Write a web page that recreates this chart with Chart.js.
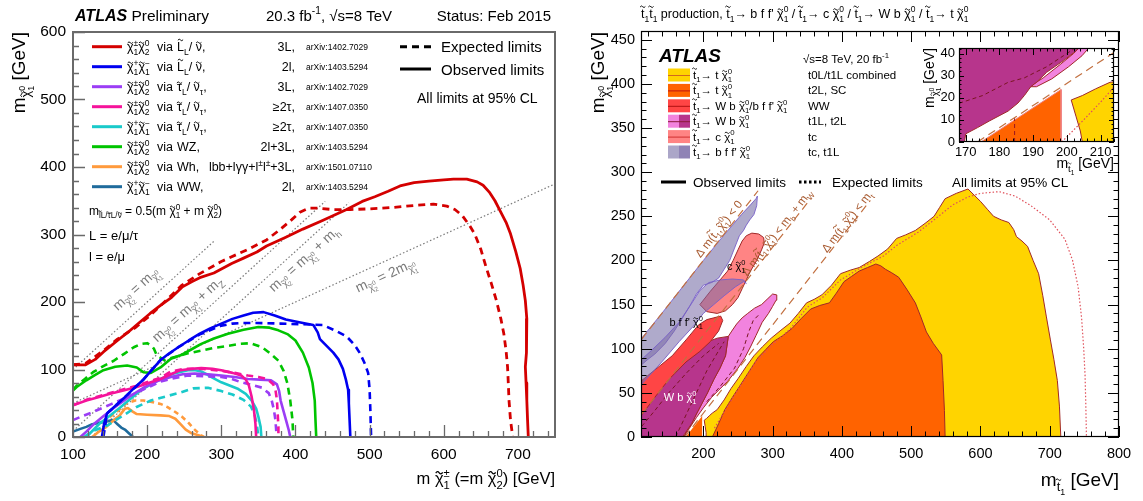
<!DOCTYPE html>
<html><head><meta charset="utf-8">
<script src="https://cdn.jsdelivr.net/npm/chart.js@4.4.1/dist/chart.umd.min.js"></script>
<style>
html,body{margin:0;padding:0;background:#fff;}
body{width:1143px;height:501px;position:relative;overflow:hidden;}
canvas{position:absolute;}
</style></head>
<body>
<canvas id="cL" width="560" height="501" style="left:0;top:0"></canvas>
<canvas id="cR" width="583" height="501" style="left:560px;top:0"></canvas>
<canvas id="cI" width="243" height="150" style="left:900px;top:30px"></canvas>
<script>
// ================= LEFT PANEL DATA (electroweakino limits) =================
const slep3L_obs=[[100,107],[117,107],[130,115],[141,126],[160,143],[175,156],[190,170],[204,183],[218,195],[233,207],[247,222],[260,230],[271,236],[290,243],[314,257],[330,265],[348,274],[361,283],[387,296],[410,308],[435,320],[469,337],[490,349],[507,356],[525,364],[541,372],[560,377],[580,379],[600,381],[613,382],[631,382],[645,378],[653,373],[662,362],[669,350],[676,335],[684,318],[690,301],[697,275],[703,250],[707,225],[710,202],[712,175],[712,153],[711,125],[710,104],[711,80],[712,54],[713,25],[714,0]];
const slep3L_exp=[[100,107],[117,109],[141,128],[160,145],[184,162],[205,181],[228,205],[247,225],[271,242],[300,260],[320,270],[340,280],[361,292],[380,308],[395,322],[406,333],[418,339],[430,339],[450,337],[474,337],[500,338],[531,340],[560,343],[586,345],[604,342],[615,337],[625,328],[635,313],[642,300],[650,278],[657,252],[664,228],[671,202],[677,175],[681,153],[684,128],[686,104],[687,80],[688,54],[690,25],[693,0]];
const slep2l_obs=[[139,0],[142,20],[146,35],[158,47],[170,59],[182,72],[194,84],[206,99],[218,114],[230,124],[242,133],[256,143],[271,153],[285,161],[300,168],[315,175],[330,180],[343,184],[357,185],[372,180],[387,174],[405,170],[424,166],[430,155],[433,145],[442,135],[451,125],[458,115],[464,101],[468,85],[471,70],[472,50],[473,25],[474,0]];
const slep2l_exp=[[141,0],[146,35],[170,59],[194,84],[218,114],[242,133],[271,152],[300,165],[315,168],[329,169],[348,169],[380,168],[410,167],[437,166],[455,157],[469,149],[480,136],[487,124],[493,110],[498,95],[500,70],[501,40],[502,0]];
const stau3L_obs=[[110,0],[118,8],[127,18],[140,30],[155,43],[175,59],[195,73],[214,83],[232,89],[248,93],[264,94],[282,93],[300,91],[318,89],[336,86],[352,85],[367,84],[375,78],[378,68],[380,54],[384,38],[388,22],[391,10],[393,0]];
const stau3L_exp=[[100,25],[113,31],[127,37],[150,48],[173,59],[196,71],[218,82],[236,87],[255,91],[278,90],[300,89],[314,86],[327,81],[342,77],[355,73],[364,65],[368,54],[371,40],[373,25],[374,10],[375,0]];
const stau2t_c2_obs=[[100,47],[118,54],[134,59],[150,64],[168,69],[186,74],[202,80],[218,86],[232,93],[245,99],[260,101],[273,102],[288,101],[300,99],[315,95],[327,91],[333,85],[337,77],[341,59],[344,40],[346,20],[347,0]];
const stau2t_c2_exp=[[100,47],[118,55],[150,65],[186,76],[218,88],[232,97],[250,101],[273,101],[300,98],[318,95],[336,91],[350,89],[362,86],[370,78],[373,70],[375,55],[376,35],[377,15],[377,0]];
const stau2t_c1_obs=[[118,0],[127,10],[136,20],[150,32],[164,44],[178,57],[191,69],[205,78],[218,86],[236,94],[255,99],[265,99],[273,97],[280,93],[286,89],[300,81],[312,76],[323,71],[333,64],[341,54],[347,42],[350,30],[353,15],[354,0]];
const stau2t_c1_exp=[[115,0],[125,8],[146,17],[165,30],[185,44],[205,54],[225,60],[245,66],[262,72],[282,73],[300,68],[315,63],[330,55],[340,45],[345,33],[348,18],[350,0]];
const wz_obs=[[100,69],[105,74],[118,84],[130,92],[141,99],[157,104],[173,106],[186,103],[195,96],[205,95],[218,103],[232,116],[245,121],[260,130],[273,138],[290,146],[309,153],[330,159],[350,163],[365,162],[377,158],[390,152],[400,143],[410,125],[418,103],[423,80],[426,54],[427,25],[428,0]];
const wz_exp=[[100,70],[105,76],[116,86],[127,96],[141,105],[155,113],[170,124],[182,133],[192,138],[200,139],[206,135],[209,131],[213,121],[223,114],[236,118],[255,124],[273,128],[290,132],[309,135],[325,138],[339,139],[355,133],[367,123],[377,113],[384,98],[389,80],[393,54],[396,25],[397,0]];
const wh_obs=[[126,0],[135,8],[145,15],[155,25],[163,32],[170,42],[174,43],[180,38],[186,34],[200,33],[218,32],[230,31],[238,27],[245,19],[252,11],[259,6],[268,3],[277,0]];
const wh_exp=[[141,20],[150,30],[160,38],[172,50],[184,54],[195,54],[206,52],[218,49],[228,44],[238,37],[247,30],[255,22],[263,12],[270,5],[276,0]];
const ww_obs=[[100,8],[110,12],[118,15],[126,19],[140,22],[154,25],[157,22],[160,19],[165,14],[170,11],[175,6],[181,0]];
const kinLines=[[[100,100],[290,290]],[[100,9],[440,349]],[[125,0],[472,347]],[[100,50],[750,375]]];
const kinLabels=['m_{χ̃_{2}^{0}} = m_{χ̃_{1}^{0}}','m_{χ̃_{2}^{0}} = m_{χ̃_{1}^{0}} + m_{Z}','m_{χ̃_{2}^{0}} = m_{χ̃_{1}^{0}} + m_{h}','m_{χ̃_{2}^{0}} = 2m_{χ̃_{1}^{0}}'];
const kinLabelPos=[[184,220],[254,190],[411,264],[521,240]];
const legColors=['#D40000','#0000F0','#9B3DF5','#F5139A','#19CACA','#00C400','#FF9A3C','#1F6B9C'];
const legParticles=['χ̃_{1}^{±}χ̃_{2}^{0}','χ̃_{1}^{+}χ̃_{1}^{−}','χ̃_{1}^{±}χ̃_{2}^{0}','χ̃_{1}^{±}χ̃_{2}^{0}','χ̃_{1}^{+}χ̃_{1}^{−}','χ̃_{1}^{±}χ̃_{2}^{0}','χ̃_{1}^{±}χ̃_{2}^{0}','χ̃_{1}^{+}χ̃_{1}^{−}'];
const legVia=['L̃_{L}/ ν̃,','L̃_{L}/ ν̃,','τ̃_{L}/ ν̃_{τ},','τ̃_{L}/ ν̃_{τ},','τ̃_{L}/ ν̃_{τ},','WZ,','Wh,','WW,'];
const legChannel=['3L,','2l,','3L,','≥2τ,','≥2τ,','2l+3L,','lbb+lγγ+l^{±}l^{±}+3L,','2l,'];
const legRef=['arXiv:1402.7029','arXiv:1403.5294','arXiv:1402.7029','arXiv:1407.0350','arXiv:1407.0350','arXiv:1403.5294','arXiv:1501.07110','arXiv:1403.5294'];
const leftXTicks=[100,200,300,400,500,600,700], leftYTicks=[0,100,200,300,400,500,600];

// ================= RIGHT PANEL DATA (stop limits) =================
const t0L1L_obs=[[205,0],[204,5],[202.7,11.7],[201.3,19],[204.6,21],[208.5,24],[212.8,27],[220,31],[230,42],[240,55],[250,66],[262,80],[273,92],[285,102],[298,112],[312,121],[325,129],[337,140],[349,152],[360,156],[371,161],[385,172],[398,185],[412,189],[425,192],[440,199],[452,205],[466,213],[479,225],[492,229],[506,234],[520,242],[533,250],[541,260],[549,270],[565,276],[582,281],[591,274],[600,267],[610,258],[619,250],[630,246],[641,243],[648,235],[652,227],[660,222],[668,216],[676,200],[684,185],[690,160],[695,137],[701,110],[706,88],[711,64],[714,35],[716,0],[205,0]];
const t0L1L_exp=[[216,10],[235,35],[255,60],[275,85],[300,105],[325,122],[350,147],[372,158],[398,178],[430,193],[460,205],[479,217],[510,232],[533,246],[560,263],[582,272],[600,276],[627,278],[650,273],[673,262],[700,246],[722,224],[733,200],[741,170],[746,135],[749,101],[751,70],[752,40],[753,0]];
const t2L_obs=[[213,0],[222,15],[231,31],[242,45],[252,57],[265,73],[279,90],[290,99],[301,108],[315,115],[328,123],[341,134],[355,145],[368,149],[382,152],[392,163],[403,176],[414,182],[425,188],[437,192],[449,196],[456,194],[463,190],[472,186],[482,181],[494,167],[506,152],[514,136],[522,119],[532,106],[544,93],[546,64],[548,30],[549,0],[213,0]];
const sc_obs=[[174.5,0],[198.3,23.7],[198.3,0],[174.5,0]];
const wb3body_obs=[[172,0],[180,10],[190,22],[200,33],[212,45],[222,53],[235,63],[250,78],[260,90],[268,102],[276,115],[285,130],[294,140],[300,148],[305,155],[306,161],[300,162],[292,156],[284,150],[274,146],[264,140],[256,135],[248,128],[241,120],[236,114],[234,103],[232,92],[224,78],[215,65],[206,50],[198,38],[190,26],[183,15],[176,7],[172,0]];
const wb_obs=[[105,0],[105,28],[111,28],[128,45],[144,61],[158,74],[171,86],[185,95],[198,104],[210,109],[220,112],[236,114],[234,103],[232,92],[224,78],[215,65],[206,50],[198,38],[190,26],[183,15],[176,7],[170,0],[105,0]];
const ww4body_obs=[[105,20],[105,64],[111,64],[130,76],[155,92],[175,110],[193,127],[205,133],[215,135],[225,137],[228,132],[222,120],[210,108],[195,97],[175,85],[150,65],[130,45],[111,25],[105,20]];
const tc_obs=[[195,150],[210,165],[222,176],[235,188],[243,200],[250,212],[256,222],[262,228],[270,231],[280,230],[287,226],[288,220],[284,212],[277,200],[268,188],[262,178],[256,168],[250,158],[242,150],[232,143],[220,140],[205,142],[195,150]];
const bff_tc_obs=[[105,82],[105,112],[111,112],[140,140],[170,170],[200,200],[230,229],[255,252],[268,263],[276,270],[278,273],[277,262],[273,252],[267,246],[262,240],[258,234],[252,228],[245,214],[238,200],[230,190],[222,180],[212,175],[200,172],[190,162],[180,148],[170,135],[158,120],[145,106],[130,94],[120,88],[111,82],[105,82]];
const bff_t1L_obs=[[105,60],[105,88],[111,88],[125,98],[145,113],[165,130],[182,150],[195,166],[208,175],[225,178],[242,179],[258,178],[262,174],[258,176],[246,170],[230,160],[215,150],[200,140],[185,125],[165,108],[140,85],[111,60],[105,60]];
const wb_exp1=[[160,0],[175,25],[190,50],[205,75],[220,95],[230,108]];
const wb_exp2=[[111,12],[130,30],[150,50],[175,72],[200,92],[222,106]];
const wb3_exp=[[205,40],[225,58],[245,78],[258,100],[265,118],[272,132],[282,140]];
const kinA=[[111,111],[279,279]], kinB=[[111,26],[355,270]], kinC=[[173,0],[441,268]];
const kinRLabels=['Δ m(t̃_{1},χ̃_{1}^{0}) < 0','Δ m(t̃_{1},χ̃_{1}^{0}) < m_{b} + m_{W}','Δ m(t̃_{1},χ̃_{1}^{0}) < m_{t}'];
const kinRLabelPos=[[222,236],[306,232],[407,244]];
const rLegLabels=['t̃_{1}→ t χ̃_{1}^{0}','t̃_{1}→ t χ̃_{1}^{0}','t̃_{1}→ W b χ̃_{1}^{0}/b f f\' χ̃_{1}^{0}','t̃_{1}→ W b χ̃_{1}^{0}','t̃_{1}→ c χ̃_{1}^{0}','t̃_{1}→ b f f\' χ̃_{1}^{0}'];
const rLegNotes=['t0L/t1L combined','t2L, SC','WW','t1L, t2L','tc','tc, t1L'];
const rightXTicks=[200,300,400,500,600,700,800], rightYTicks=[0,50,100,150,200,250,300,350,400,450];

// ================= INSET DATA =================
const insWb=[[160,0],[169.6,0],[170,3.7],[173.5,6.5],[177,9.5],[182.6,14],[185.5,17.6],[187.4,21],[189.3,25],[191,27],[194,31.5],[199,36.8],[202.6,41],[203.5,42.5],[160,42.5],[160,0]];
const insWb3=[[189,25],[193,29],[198,35],[202,40],[203.6,42.5],[206.5,42.5],[204.5,39],[200.5,34],[195.5,28.5],[191,25],[189,25]];
const insSC=[[174.5,0],[198.3,23.7],[198.3,0],[174.5,0]];
const insT=[[204.6,0],[204,5],[202.7,11.7],[201.3,19],[204.6,21],[208.5,24],[212.8,27],[216,27.5],[216,0],[204.6,0]];
const insWbExp=[[166,17],[168.2,17.6],[175,21],[182.6,27],[187.4,29],[190,31],[194,34],[199,39],[202,42]];
const insScExp=[[184.5,0],[184.5,10.8]];
const insTExp=[[198.5,0],[205,10],[210,18],[215,26.5]];
const insKinC=[[173.5,0],[216,42.5]];
const insXTicks=[170,180,190,200,210], insYTicks=[0,10,20,30,40];

// ================= HELPERS =================
const FONT='"Liberation Sans", Arial, Helvetica, sans-serif';
const TIL='\u0303';
const toXY=a=>a.map(p=>({x:p[0],y:p[1]}));
function parseRich(s){
  const segs=[];let buf='';let i=0;
  const readGroup=()=>{let d=0;const st=i+1;for(;i<s.length;i++){if(s[i]==='{')d++;else if(s[i]==='}'){d--;if(d===0)break;}}const g=s.slice(st,i);i++;return g;};
  while(i<s.length){const c=s[i];
    if((c==='_'||c==='^')&&s[i+1]==='{'){
      if(buf){segs.push({n:buf});buf='';}
      const seg={sub:null,sup:null};i++;const g=readGroup();if(c==='_')seg.sub=g;else seg.sup=g;
      const c2=s[i];if((c2==='_'||c2==='^')&&c2!==c&&s[i+1]==='{'){i++;const g2=readGroup();if(c2==='_')seg.sub=g2;else seg.sup=g2;}
      segs.push(seg);
    } else {buf+=c;i++;}
  }
  if(buf)segs.push({n:buf});return segs;
}
const fontStr=(size,style)=>(style||'')+' '+size.toFixed(2)+'px '+FONT;
function plainW(ctx,str){return ctx.measureText(str.split(TIL).join('')).width;}
function plainD(ctx,str,x,y,size){
  const parts=str.split(TIL);let cx=x;
  parts.forEach((p,k)=>{if(!p.length)return;ctx.fillText(p,cx,y);const w=ctx.measureText(p).width;
    if(k<parts.length-1){const last=p[p.length-1];const lw=ctx.measureText(last).width;const tall=/[A-Zbdfhklt]/.test(last);
      const tx=cx+w-lw/2, ty=y-(tall?0.9:0.68)*size, tw=Math.max(3,size*0.42), am=size*0.07;
      ctx.save();ctx.strokeStyle=ctx.fillStyle;ctx.lineWidth=Math.max(0.7,size*0.075);ctx.beginPath();
      ctx.moveTo(tx-tw/2,ty+am*0.3);ctx.quadraticCurveTo(tx-tw/4,ty-am*2,tx,ty);ctx.quadraticCurveTo(tx+tw/4,ty+am*2,tx+tw/2,ty-am*0.3);ctx.stroke();ctx.restore();}
    cx+=w;});
  return cx-x;}
function richW(ctx,s,size,style){let w=0;for(const g of parseRich(s)){if(g.n!==undefined){ctx.font=fontStr(size,style);w+=plainW(ctx,g.n);}else{const a=g.sub!=null?richW(ctx,g.sub,size*0.68,style):0;const b=g.sup!=null?richW(ctx,g.sup,size*0.68,style):0;w+=Math.max(a,b);}}return w;}
function richD(ctx,s,x,y,size,style){for(const g of parseRich(s)){if(g.n!==undefined){ctx.font=fontStr(size,style);x+=plainD(ctx,g.n,x,y,size);}else{let a=0,b=0;if(g.sub!=null)a=richD(ctx,g.sub,x,y+size*0.28,size*0.68,style)-x;if(g.sup!=null)b=richD(ctx,g.sup,x,y-size*0.45,size*0.68,style)-x;x+=Math.max(a,b);}}return x;}
function txt(ctx,s,x,y,o){o=o||{};const size=o.size||12,style=o.style||'';
  ctx.save();ctx.fillStyle=o.color||'#000';ctx.textAlign='left';ctx.textBaseline='alphabetic';
  ctx.translate(x,y);if(o.rot)ctx.rotate(o.rot);
  const w=richW(ctx,s,size,style);let dx=0;if(o.align==='center')dx=-w/2;else if(o.align==='right')dx=-w;
  const dy=o.vcenter?size*0.35:0;richD(ctx,s,dx,dy,size,style);ctx.restore();return w;}
function drawTicks(chart,spec){
  const ctx=chart.ctx,a=chart.chartArea,xs=chart.scales.x,ys=chart.scales.y;
  ctx.save();ctx.strokeStyle=spec.color;ctx.lineWidth=spec.lw;ctx.beginPath();
  const doAxis=(sc,s,isX)=>{const n0=Math.ceil(sc.min/s.minor-1e-9),n1=Math.floor(sc.max/s.minor+1e-9);
    for(let n=n0;n<=n1;n++){const v=n*s.minor;const r=v/s.major;const maj=Math.abs(r-Math.round(r))<1e-6;const L=maj?s.len:s.len/2;const p=Math.round(sc.getPixelForValue(v))+0.5;
      if(isX){if(s.bottom){ctx.moveTo(p,a.bottom);ctx.lineTo(p,a.bottom-L);}if(s.top){ctx.moveTo(p,a.top);ctx.lineTo(p,a.top+L);}}
      else{if(s.left){ctx.moveTo(a.left,p);ctx.lineTo(a.left+L,p);}if(s.right){ctx.moveTo(a.right,p);ctx.lineTo(a.right-L,p);}}}};
  doAxis(xs,spec.x,true);doAxis(ys,spec.y,false);ctx.stroke();ctx.restore();}
function line(d,c,w,dash){return {data:toXY(d),borderColor:c,borderWidth:w,borderDash:dash||[],fill:false,pointRadius:0,tension:0};}
function poly(d,f,bc,bw){return {data:toXY(d),backgroundColor:f,borderColor:bc||'rgba(0,0,0,0)',borderWidth:bw||0.01,fill:'shape',pointRadius:0,tension:0};}
function ordered(list){const n=list.length;return list.map((d,i)=>Object.assign(d,{order:n-i}));}
function scaleCfg(min,max,vals,size,pad,fit,isX){return {type:'linear',min:min,max:max,
  afterBuildTicks:s=>{s.ticks=vals.map(v=>({value:v}));},
  ticks:{autoSkip:false,maxRotation:0,color:'#000',font:{family:FONT,size:size},padding:pad},
  grid:{display:false,drawTicks:false},border:{display:false},
  afterFit:isX?(s=>{s.height=fit;}):(s=>{s.width=fit;})};}
function baseOpts(pad,xs,ys){return {responsive:false,animation:false,devicePixelRatio:1,events:[],
  layout:{padding:pad},plugins:{legend:{display:false},tooltip:{enabled:false},filler:{drawTime:'beforeDatasetDraw'}},
  elements:{point:{radius:0},line:{tension:0,borderJoinStyle:'round'}},scales:{x:xs,y:ys}};}

// ================= LEFT CHART =================
const DASH=[7,5];
const leftDS=ordered([
  ...kinLines.map(l=>line(l,'#7a7a7a',1.2,[1.5,2.2])),
  line(ww_obs,legColors[7],2.6),
  line(wh_exp,legColors[6],2.6,[5,4]),line(wh_obs,legColors[6],2.6),
  line(stau2t_c1_exp,legColors[4],2.6,DASH),line(stau2t_c1_obs,legColors[4],2.6),
  line(stau3L_exp,legColors[2],2.6,DASH),line(stau3L_obs,legColors[2],2.6),
  line(stau2t_c2_exp,legColors[3],2.6,DASH),line(stau2t_c2_obs,legColors[3],2.6),
  line(wz_exp,legColors[5],2.6,DASH),line(wz_obs,legColors[5],2.6),
  line(slep2l_exp,legColors[1],2.6,DASH),line(slep2l_obs,legColors[1],2.6),
  line(slep3L_exp,legColors[0],2.8,DASH),line(slep3L_obs,legColors[0],2.8)
]);
new Chart(document.getElementById('cL'),{type:'line',data:{datasets:leftDS},
  options:baseOpts({left:0,top:32,right:5,bottom:0},
    scaleCfg(100,750,leftXTicks,15.5,8,64,true),
    scaleCfg(0,600,leftYTicks,15.5,7,73,false)),
  plugins:[{id:'decoL',afterDraw(chart){
    const ctx=chart.ctx,a=chart.chartArea,xs=chart.scales.x,ys=chart.scales.y;
    drawTicks(chart,{color:'#6a6a6a',lw:1.3,x:{major:100,minor:20,len:12,bottom:true},y:{major:100,minor:20,len:12,left:true}});
    ctx.save();ctx.strokeStyle='#6a6a6a';ctx.lineWidth=2;ctx.strokeRect(a.left,a.top,a.right-a.left,a.bottom-a.top);ctx.restore();
    kinLabels.forEach((s,i)=>{const l=kinLines[i];const dx=xs.getPixelForValue(l[1][0])-xs.getPixelForValue(l[0][0]);const dy=ys.getPixelForValue(l[1][1])-ys.getPixelForValue(l[0][1]);
      txt(ctx,s,xs.getPixelForValue(kinLabelPos[i][0]),ys.getPixelForValue(kinLabelPos[i][1]),{size:14,color:'#7a7a7a',align:'center',vcenter:true,rot:Math.atan2(dy,dx)});});
    const w=txt(ctx,'ATLAS',75,21,{size:16,style:'italic bold'});
    txt(ctx,' Preliminary',75+w,21,{size:15.5});
    txt(ctx,'20.3 fb^{-1}, √s=8 TeV',266,21,{size:15});
    txt(ctx,'Status: Feb 2015',551,21,{size:15,align:'right'});
    legColors.forEach((c,i)=>{const y=46.7+20*i;
      ctx.save();ctx.strokeStyle=c;ctx.lineWidth=3;ctx.beginPath();ctx.moveTo(92,y);ctx.lineTo(122,y);ctx.stroke();ctx.restore();
      txt(ctx,legParticles[i],127,y+4.5,{size:12.5});
      txt(ctx,'via',157,y+4.5,{size:12.5});
      txt(ctx,legVia[i],177,y+4.5,{size:12.5});
      txt(ctx,legChannel[i],295,y+4.5,{size:12.5,align:'right'});
      txt(ctx,legRef[i],306,y+3.5,{size:8.5});});
    ctx.save();ctx.strokeStyle='#000';ctx.lineWidth=3;ctx.setLineDash([7,5]);ctx.beginPath();ctx.moveTo(400,46.7);ctx.lineTo(431,46.7);ctx.stroke();
    ctx.setLineDash([]);ctx.beginPath();ctx.moveTo(400,69);ctx.lineTo(431,69);ctx.stroke();ctx.restore();
    txt(ctx,'Expected limits',441,52,{size:15});
    txt(ctx,'Observed limits',441,74.5,{size:15});
    txt(ctx,'All limits at 95% CL',417,103,{size:14});
    txt(ctx,'m_{l̃L/τ̃L/ν̃} = 0.5(m χ̃_{1}^{0} + m χ̃_{2}^{0})',89,215,{size:12});
    txt(ctx,'L = e/μ/τ',89,240,{size:13});
    txt(ctx,'l = e/μ',89,261,{size:13});
    txt(ctx,'m_{χ̃_{1}^{0}} [GeV]',25,32,{size:19,align:'right',rot:-Math.PI/2});
    txt(ctx,'m χ̃_{1}^{±} (=m χ̃_{2}^{0}) [GeV]',555,484,{size:16.5,align:'right'});
  }}]});

// ================= RIGHT CHART =================
const BR='#A02828';
const rightDS=ordered([
  poly(t0L1L_obs,'#FFD400',BR,1),
  poly(t2L_obs,'#FF6300',BR,1),
  poly(sc_obs,'#FF6300','rgba(0,0,0,0)',0.01),
  line(t0L1L_exp,'#E0505A',1.2,[1.5,2]),
  poly(wb3body_obs,'#F283DE',BR,1),
  poly(wb_obs,'#B7358C',BR,1),
  poly(ww4body_obs,'#FF4545',BR,1),
  poly(tc_obs,'#FF8484',BR,1),
  poly(bff_tc_obs,'rgba(122,114,168,0.6)','rgba(120,95,200,0.9)',1),
  poly(bff_t1L_obs,'rgba(122,105,168,0.55)','rgba(120,95,200,0.9)',1),
  line(wb_exp1,'#7A1520',1,[4,3]),line(wb_exp2,'#7A1520',1,[4,3]),line(wb3_exp,'#7A1520',1,[4,3]),
  line(kinA,'#C27040',1.2,[8,5]),line(kinB,'#C27040',1.2,[8,5]),line(kinC,'#C27040',1.2,[8,5])
]);
new Chart(document.getElementById('cR'),{type:'line',data:{datasets:rightDS},
  options:baseOpts({left:0,top:31,right:24,bottom:0},
    scaleCfg(110,800,rightXTicks,14.5,8,64,true),
    scaleCfg(0,460,rightYTicks,14.5,6,81,false)),
  plugins:[{id:'decoR',afterDraw(chart){
    const ctx=chart.ctx,a=chart.chartArea,xs=chart.scales.x,ys=chart.scales.y;
    drawTicks(chart,{color:'#000',lw:1,x:{major:100,minor:20,len:11,bottom:true,top:true},y:{major:50,minor:10,len:11,left:true,right:true}});
    ctx.save();ctx.strokeStyle='#000';ctx.lineWidth=1.2;ctx.strokeRect(a.left+0.5,a.top+0.5,a.right-a.left-1,a.bottom-a.top-1);ctx.restore();
    const kl=[kinA,kinB,kinC];
    kinRLabels.forEach((s,i)=>{const l=kl[i];const dx=xs.getPixelForValue(l[1][0])-xs.getPixelForValue(l[0][0]);const dy=ys.getPixelForValue(l[1][1])-ys.getPixelForValue(l[0][1]);
      txt(ctx,s,xs.getPixelForValue(kinRLabelPos[i][0]),ys.getPixelForValue(kinRLabelPos[i][1]),{size:11.5,color:'#A85A30',align:'center',vcenter:true,rot:Math.atan2(dy,dx)});});
    txt(ctx,'c χ̃_{1}^{0}',xs.getPixelForValue(234),ys.getPixelForValue(189),{size:11});
    txt(ctx,'b f f\' χ̃_{1}^{0}',xs.getPixelForValue(151),ys.getPixelForValue(126),{size:11});
    txt(ctx,'W b χ̃_{1}^{0}',xs.getPixelForValue(143),ys.getPixelForValue(41),{size:11,color:'#fff'});
    ctx.save();ctx.translate(-560,0);
    txt(ctx,'t̃_{1}t̃_{1} production, t̃_{1}→ b f f\' χ̃_{1}^{0} / t̃_{1}→ c χ̃_{1}^{0} / t̃_{1}→ W b χ̃_{1}^{0} / t̃_{1}→ t χ̃_{1}^{0}',641,18,{size:12.5});
    txt(ctx,'ATLAS',659,62,{size:19,style:'italic bold'});
    txt(ctx,'√s=8 TeV, 20 fb^{-1}',803,63,{size:11.5});
    const boxes=[['#FFD400','#FFD400','#D2691E'],['#FF6300','#FF6300','#C01010'],['#FF4545','#FF4545','#B01010'],['#F283DE','#B7358C','#8B1A3A'],['#FF8484','#FF8484','#D03030'],['#ABA6C8','#8F83B5',null]];
    boxes.forEach((b,i)=>{const y=75+15.4*i;
      ctx.fillStyle=b[0];ctx.fillRect(668,y-6.5,11,13);ctx.fillStyle=b[1];ctx.fillRect(679,y-6.5,11,13);
      if(b[2]){ctx.strokeStyle=b[2];ctx.lineWidth=1;ctx.beginPath();ctx.moveTo(668,y+0.5);ctx.lineTo(690,y+0.5);ctx.stroke();}
      txt(ctx,rLegLabels[i],693,y+4,{size:11.5});
      txt(ctx,rLegNotes[i],808,y+4,{size:11.5});});
    ctx.strokeStyle='#000';ctx.lineWidth=3;ctx.beginPath();ctx.moveTo(661,182);ctx.lineTo(686,182);ctx.stroke();
    ctx.setLineDash([2.5,2.5]);ctx.beginPath();ctx.moveTo(799,182);ctx.lineTo(821,182);ctx.stroke();ctx.setLineDash([]);
    txt(ctx,'Observed limits',693,187,{size:13.5});
    txt(ctx,'Expected limits',832,187,{size:13.5});
    txt(ctx,'All limits at 95% CL',952,187,{size:13.5});
    txt(ctx,'m_{χ̃_{1}^{0}} [GeV]',604,32,{size:19,align:'right',rot:-Math.PI/2});
    txt(ctx,'m_{t̃_{1}} [GeV]',1119,486,{size:19,align:'right'});
    ctx.restore();
  }}]});

// ================= INSET CHART =================
const insDS=ordered([
  poly(insT,'#FFD400',BR,1),
  poly(insSC,'#FF6300','#F08080',1),
  line(insTExp,'#E0505A',1.2,[1.5,2]),
  poly(insWb3,'#F283DE',BR,1),
  poly(insWb,'#B7358C',BR,1),
  line(insWbExp,'#7A1520',1,[4,3]),
  line(insScExp,'#9A1520',1,[4,3]),
  line(insKinC,'#C27040',1.2,[8,5])
]);
new Chart(document.getElementById('cI'),{type:'line',data:{datasets:insDS},
  options:baseOpts({left:0,top:18,right:29,bottom:0},
    scaleCfg(168,214,insXTicks,13,3,38,true),
    scaleCfg(0,42.5,insYTicks,13,4,59,false)),
  plugins:[{id:'decoI',beforeDatasetsDraw(chart){const a=chart.chartArea,ctx=chart.ctx;ctx.save();ctx.fillStyle='#fff';ctx.fillRect(a.left,a.top,a.right-a.left,a.bottom-a.top);ctx.restore();},
    afterDraw(chart){const ctx=chart.ctx,a=chart.chartArea;
    drawTicks(chart,{color:'#000',lw:1,x:{major:10,minor:2,len:7,bottom:true,top:true},y:{major:10,minor:2,len:5,left:true,right:true}});
    ctx.save();ctx.strokeStyle='#000';ctx.lineWidth=1.2;ctx.strokeRect(a.left+0.5,a.top+0.5,a.right-a.left-1,a.bottom-a.top-1);ctx.restore();
    ctx.save();ctx.translate(-900,-30);
    txt(ctx,'m_{χ̃_{1}^{0}} [GeV]',934,48,{size:14,align:'right',rot:-Math.PI/2});
    txt(ctx,'m_{t̃_{1}} [GeV]',1114,168,{size:14,align:'right'});
    ctx.restore();}}]});
</script>
</body></html>
